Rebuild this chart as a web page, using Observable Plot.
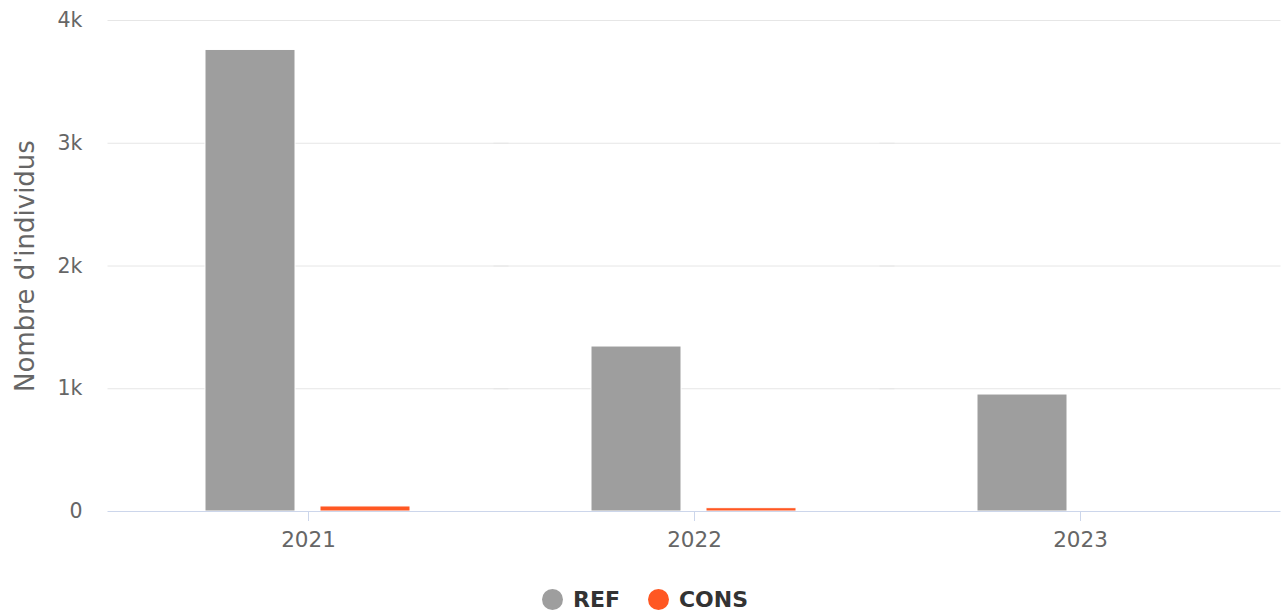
<!DOCTYPE html>
<html>
<head>
<meta charset="utf-8">
<script src="https://cdn.jsdelivr.net/npm/d3@7"></script>
<script src="https://cdn.jsdelivr.net/npm/@observablehq/plot@0.6"></script>
<style>
  html, body { margin: 0; padding: 0; background: #fff; }
  body { width: 1283px; height: 611px; overflow: hidden; font-family: "DejaVu Sans", sans-serif; }
  #chart svg { display: block; font-family: "DejaVu Sans", sans-serif; }
  g[aria-label="y-axis tick label"] text { font-size: 20.5px; fill: #666666; }
  g[aria-label="fx-axis tick label"] text { font-size: 21.5px; fill: #666666; }
  g[aria-label="y-axis label"] text { font-size: 26px; fill: #666666; }
  #legend { display: flex; justify-content: center; align-items: center; height: 51px; padding-left: 7px; box-sizing: border-box; padding-top: 27px; }
  .item { display: flex; align-items: center; margin: 0 14px; font-weight: bold; font-size: 22px; color: #333333; }
  .dot { width: 21px; height: 21px; border-radius: 50%; margin-right: 10px; }
</style>
</head>
<body>
<div id="chart"></div>
<div id="legend"></div>
<script>
const years = ["2021", "2022", "2023"];
const seriesNames = ["REF", "CONS"];
const seriesColors = ["#9e9e9e", "#ff5722"];
const refValues = [3760, 1344, 953];
const consValues = [41, 27, 0];
const yTicks = [0, 1000, 2000, 3000, 4000];
const yTitle = "Nombre d'individus";

const data = [];
years.forEach((y, i) => {
  data.push({year: y, series: "REF", value: refValues[i]});
  data.push({year: y, series: "CONS", value: consValues[i]});
});

const chart = Plot.plot({
  width: 1283,
  height: 560,
  marginTop: 20,
  marginBottom: 49,
  marginLeft: 107,
  marginRight: 2,
  fx: {domain: years, padding: 0, insetLeft: 7.5, insetRight: 7.5, label: null},
  x: {domain: seriesNames, paddingInner: 0.2155, paddingOuter: 0.772, axis: null},
  y: {domain: [0, 4000], axis: null},
  color: {domain: seriesNames, range: seriesColors},
  marks: [
    Plot.gridY(yTicks.slice(1), {stroke: "#e6e6e6", strokeOpacity: 1, strokeWidth: 1, insetLeft: -7.5, insetRight: -7.5}),
    Plot.barY(data, {fx: "year", x: "series", y: "value", fill: "series", stroke: "#ffffff", strokeWidth: 1}),
    Plot.ruleY([0], {stroke: "#ccd6eb", strokeWidth: 1, insetLeft: -7.5, insetRight: -7.5}),
    Plot.axisY({ticks: yTicks, tickFormat: d => d === 0 ? "0" : d / 1000 + "k", tickSize: 0, tickPadding: 33,
      label: yTitle, labelAnchor: "center", labelOffset: 100, labelArrow: "none"}),
    Plot.axisFx({anchor: "bottom", tickSize: 10, tickPadding: 10, stroke: "#ccd6eb", label: null})
  ]
});
document.getElementById("chart").appendChild(chart);

const legend = document.getElementById("legend");
seriesNames.forEach((s, i) => {
  const item = document.createElement("div");
  item.className = "item";
  const dot = document.createElement("span");
  dot.className = "dot";
  dot.style.background = seriesColors[i];
  const label = document.createElement("span");
  label.textContent = s;
  item.appendChild(dot);
  item.appendChild(label);
  legend.appendChild(item);
});
</script>
</body>
</html>
